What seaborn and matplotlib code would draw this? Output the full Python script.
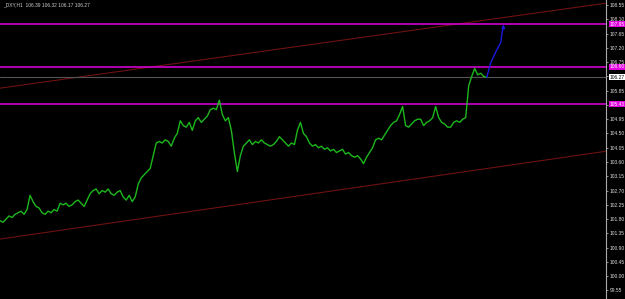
import numpy as np
import pandas as pd
import matplotlib
matplotlib.use("Agg")
import matplotlib.pyplot as plt
import matplotlib.transforms as mtransforms
import seaborn as sns

# ---- data ----
prices = [
    101.75, 101.70, 101.80, 101.90, 101.85, 101.95, 102.00, 102.05, 101.95, 102.10, 102.55,
    102.35, 102.20, 102.15, 102.00, 101.95, 102.05, 102.00, 102.10, 102.05, 102.30,
    102.25, 102.30, 102.20, 102.25, 102.35, 102.40, 102.30, 102.20, 102.40, 102.60,
    102.70, 102.75, 102.60, 102.70, 102.65, 102.75, 102.60, 102.55, 102.65, 102.70,
    102.50, 102.40, 102.55, 102.35, 102.50, 102.90, 103.10, 103.20, 103.30, 103.40,
    103.80, 104.20, 104.25, 104.20, 104.30, 104.25, 104.10, 104.35, 104.50, 104.90,
    104.75, 104.70, 104.85, 104.60, 104.90, 105.00, 104.85, 104.95, 105.05, 105.25,
    105.30, 105.25, 105.55, 105.10, 104.90, 105.00, 104.60, 103.90, 103.30, 103.80,
    104.10, 104.20, 104.30, 104.15, 104.25, 104.20, 104.30, 104.20, 104.15, 104.10,
    104.15, 104.25, 104.40, 104.30, 104.20, 104.10, 104.20, 104.15, 104.60, 104.85,
    104.50, 104.40, 104.20, 104.10, 104.15, 104.05, 104.10, 104.00, 104.05, 103.95,
    104.00, 103.90, 103.95, 104.00, 103.85, 103.90, 103.80, 103.75, 103.80, 103.70,
    103.55, 103.75, 103.90, 104.05, 104.30, 104.35, 104.30, 104.45, 104.60, 104.75,
    104.85, 104.90, 105.10, 105.35, 104.75, 104.70, 104.80, 104.90, 104.95, 104.95,
    104.75, 104.85, 104.90, 105.00, 105.35, 105.00, 104.85, 104.80, 104.70, 104.70,
    104.85, 104.90, 104.85, 104.95, 105.00, 106.00, 106.30, 106.55, 106.35, 106.40,
    106.30, 106.27,
]
forecast_bar = [162.0, 163.3, 165.0, 166.7, 167.1, 167.6]
forecast_px = [106.27, 106.72, 107.07, 107.38, 107.67, 107.90]
upper_trend_bar = [0.0, 201.7]
upper_trend_px = [105.93, 108.61]
lower_trend_bar = [0.0, 201.7]
lower_trend_px = [101.17, 103.94]
levels = [107.95, 106.60, 105.43]
level_labels = ["107.95", "106.60", "105.43"]
last_price = 106.27
yticks = [99.55, 100.00, 100.45, 100.90, 101.35, 101.80, 102.25, 102.70, 103.15,
          103.60, 104.05, 104.50, 104.95, 105.40, 105.85, 106.30, 106.75, 107.20,
          107.65, 108.10, 108.55]
ytick_labels = ["99.55", "100.00", "100.45", "100.90", "101.35", "101.80", "102.25",
                "102.70", "103.15", "103.60", "104.05", "104.50", "104.95", "", "105.85",
                "", "106.75", "107.20", "107.65", "108.10", "108.55"]
title = "_DXY,H1  106.39 106.32 106.17 106.27"

df = pd.DataFrame({"bar": np.arange(len(prices)), "price": prices})

sns.set_style("dark")
plt.rcParams["font.family"] = ["Liberation Sans", "DejaVu Sans"]

fig = plt.figure(figsize=(6.25, 2.99), dpi=100, facecolor="black")
ax = fig.add_axes([0, 0, 606 / 625, 1.0])
ax.set_facecolor("black")

# trend channel
ax.plot(upper_trend_bar, upper_trend_px, color="#6e1212", lw=0.8)
ax.plot(lower_trend_bar, lower_trend_px, color="#6e1212", lw=0.8)

# horizontal levels
for lv in levels:
    ax.axhline(lv, color="#e000e0", lw=1.1)
ax.axhline(last_price, color="#555555", lw=0.8)

# price
sns.lineplot(data=df, x="bar", y="price", ax=ax, color="#1cb81c", lw=1.0)

# forecast arrow
ax.plot(forecast_bar, forecast_px, color="#1a1ae0", lw=1.0)
ax.annotate("", xy=(forecast_bar[-1], forecast_px[-1] + 0.12),
            xytext=(forecast_bar[-1] - 0.1, forecast_px[-1] - 0.15),
            arrowprops=dict(arrowstyle="-|>", color="#1a1ae0", lw=0.8,
                            mutation_scale=5))

ax.set_xlim(0, 201.7)
ax.set_ylim(99.28, 108.71)
ax.set_xlabel("")
ax.set_ylabel("")
ax.set_xticks([])
ax.yaxis.tick_right()
ax.set_yticks(yticks)
ax.set_yticklabels(ytick_labels)
ax.tick_params(axis="y", colors="#cccccc", labelsize=3.5, length=1.5, width=0.5, pad=1.0,
               labelcolor="#dddddd")
ax.grid(False)
for s in ["top", "left", "bottom"]:
    ax.spines[s].set_visible(False)
ax.spines["right"].set_color("#aaaaaa")
ax.spines["right"].set_linewidth(0.8)

trans = mtransforms.blended_transform_factory(ax.transAxes, ax.transData)
for lv, lab in zip(levels, level_labels):
    ax.text(1.006, lv, lab, transform=trans, fontsize=3.5, color="#ffffff",
            va="center", ha="left", clip_on=False,
            bbox=dict(boxstyle="square,pad=0.12", fc="#e000e0", ec="none"))
ax.text(1.006, last_price, f"{last_price:.2f}", transform=trans, fontsize=3.5,
        color="#000000", va="center", ha="left", clip_on=False,
        bbox=dict(boxstyle="square,pad=0.12", fc="#ffffff", ec="none"))

fig.text(3 / 625, 1 - 5 / 299, title, fontsize=3.5, color="#cccccc", va="center", ha="left")

fig.savefig("out.png", dpi=100, facecolor="black")
